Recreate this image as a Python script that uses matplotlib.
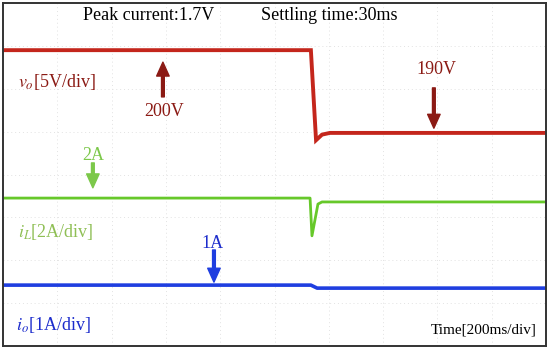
import matplotlib
matplotlib.use("Agg")
import matplotlib.pyplot as plt

plt.rcParams['font.family'] = ['Liberation Serif', 'DejaVu Serif']
plt.rcParams['mathtext.fontset'] = 'stix'

# time axis in ms (10 div x 200 ms), vertical axis in scope divisions (8 div)
t_vo = [0, 1134, 1153, 1175, 1204, 2000]
vo_div = [6.90, 6.90, 4.80, 4.93, 4.97, 4.97]

t_il = [0, 1131, 1138, 1160, 1175, 2000]
il_div = [3.45, 3.45, 2.57, 3.31, 3.36, 3.36]

t_io = [0, 1134, 1157, 2000]
io_div = [1.42, 1.42, 1.35, 1.35]

red = '#c4261c'
dark_red = '#8b1a14'
green = '#66c82a'
green_txt = '#8fbf55'
blue = '#1f3ee0'
blue_txt = '#1c2ccc'

fig = plt.figure(figsize=(5.5, 3.51), dpi=100)
ax = fig.add_axes([3 / 550, 1 - 346 / 351, 543 / 550, 343 / 351])
ax.set_xlim(0, 2000)
ax.set_ylim(0, 8)

# faint oscilloscope grid
for k in range(1, 10):
    ax.axvline(k * 200, color='#e2e2e2', lw=0.7, ls=(0, (1, 3)), zorder=0)
for k in range(1, 8):
    ax.axhline(k, color='#e2e2e2', lw=0.7, ls=(0, (1, 3)), zorder=0)

ax.plot(t_vo, vo_div, color=red, lw=2.8, solid_joinstyle='miter')
ax.plot(t_il, il_div, color=green, lw=2.0)
ax.plot(t_io, io_div, color=blue, lw=2.6)

ax.set_xticks([])
ax.set_yticks([])
for s in ax.spines.values():
    s.set_color('#333333')
    s.set_linewidth(1.4)

fs = 13
ax.text(296, 7.72, 'Peak current:1.7V', fontsize=fs, va='center', ha='left')
ax.text(950, 7.72, 'Settling time:30ms', fontsize=fs, va='center', ha='left')

ax.text(55, 6.16, r'$v_o$[5V/div]', fontsize=fs, va='center', color=dark_red)
ax.text(55, 2.66, r'$i_L$[2A/div]', fontsize=fs, va='center', color=green_txt)
ax.text(48, 0.49, r'$i_o$[1A/div]', fontsize=fs, va='center', color=blue_txt)
ax.text(1967, 0.37, 'Time[200ms/div]', fontsize=11, va='center', ha='right')

arrow = dict(width=2.0, headwidth=9, headlength=10, shrink=0)
ax.annotate('', xy=(589, 6.62), xytext=(589, 5.81),
            arrowprops=dict(color=dark_red, **arrow))
ax.text(593, 5.46, '200V', fontsize=fs, ha='center', va='center', color=dark_red)

ax.annotate('', xy=(1587, 5.08), xytext=(1587, 6.02),
            arrowprops=dict(color=dark_red, **arrow))
ax.text(1595, 6.44, '190V', fontsize=fs, ha='center', va='center', color=dark_red)

ax.annotate('', xy=(331, 3.69), xytext=(331, 4.27),
            arrowprops=dict(color='#7cc84a', **arrow))
ax.text(331, 4.45, '2A', fontsize=fs, ha='center', va='center', color='#7cc84a')

ax.annotate('', xy=(777, 1.49), xytext=(777, 2.24),
            arrowprops=dict(color=blue, **arrow))
ax.text(770, 2.40, '1A', fontsize=fs, ha='center', va='center', color=blue_txt)

fig.savefig('out.png', dpi=100)
